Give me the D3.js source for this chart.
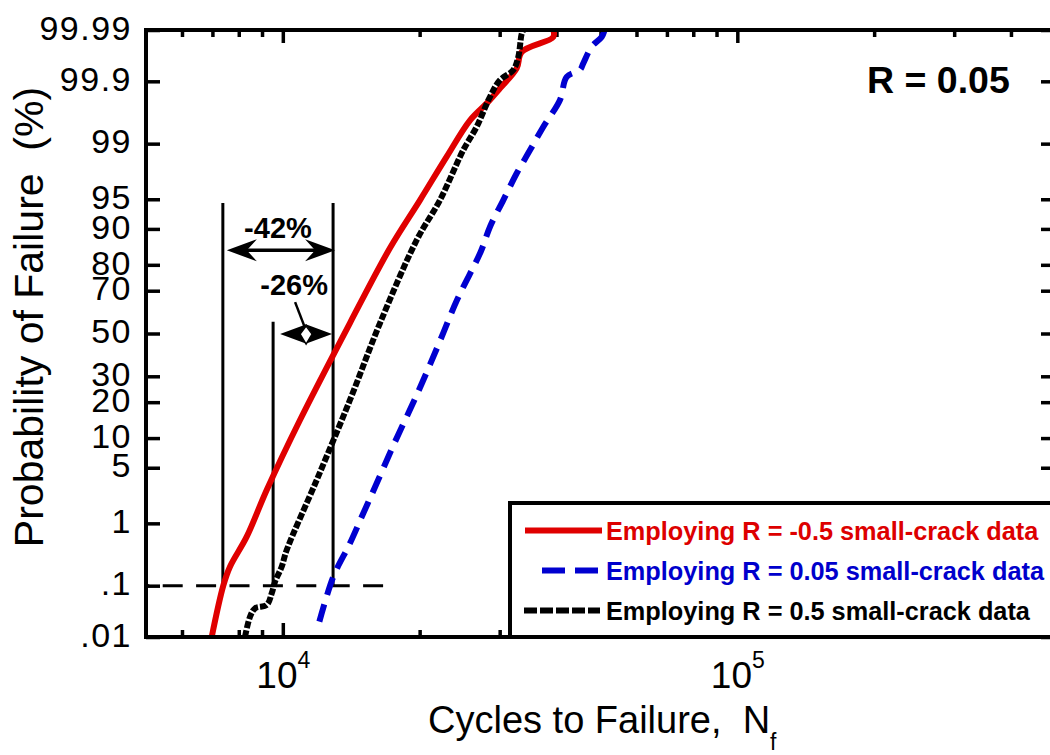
<!DOCTYPE html>
<html>
<head>
<meta charset="utf-8">
<script src="https://cdn.jsdelivr.net/npm/d3@7"></script>
<style>
  body { margin: 0; background: #fff; }
  svg { display: block; font-family: Arial, "Liberation Sans", Helvetica, sans-serif; }
</style>
</head>
<body>
<svg id="chart" width="1050" height="755"></svg>
<script>
// axis ticks
const probTicks = [0.01, 0.1, 1, 5, 10, 20, 30, 50, 70, 80, 90, 95, 99, 99.9, 99.99];
const probLabels = ['.01', '.1', '1', '5', '10', '20', '30', '50', '70', '80', '90', '95', '99', '99.9', '99.99'];
const cycleDomain = [5000, 500000];
const cycleMajor = [1e4, 1e5];
const cycleMinor = [6e3, 7e3, 8e3, 9e3, 2e4, 3e4, 4e4, 5e4, 6e4, 7e4, 8e4, 9e4, 2e5, 3e5, 4e5];

// R = -0.5 small-crack data (red)
const redCycles = [6975, 7396, 7651, 8329, 9217, 10910, 14050, 17210, 20040, 22940, 25810, 28090, 30050, 32700, 33540, 39370, 39370];
const redProb = [0.01, 0.1, 0.2135, 0.639, 2.76, 14.46, 55.1, 85.26, 94.9, 98.49, 99.55, 99.76, 99.867, 99.942, 99.972, 99.986, 99.99];

// R = 0.05 small-crack data (blue)
const blueCycles = [12033, 12915, 14052, 15034, 16090, 17594, 19707, 21874, 24210, 27255, 28570, 30560, 32706, 34990, 37430, 40720, 42130, 45060, 45820, 47810, 50300, 51070];
const blueProb = [0.0207, 0.144, 0.507, 1.379, 3.32, 8.93, 22.55, 43.29, 66.24, 84.19, 90.47, 94.9, 97.52, 98.77, 99.436, 99.789, 99.917, 99.938, 99.9535, 99.978, 99.986, 99.99];

// R = 0.5 small-crack data (black)
const blackCycles = [8256, 8471, 8688, 9217, 9454, 9613, 9943, 10199, 11874, 14052, 16364, 19707, 22171, 24948, 26703, 28565, 30050, 32144, 32968, 33541, 33830];
const blackProb = [0.01, 0.026, 0.038, 0.044, 0.0727, 0.118, 0.2135, 0.399, 3.63, 20.76, 55.1, 87.4, 94.9, 98.77, 99.436, 99.814, 99.905, 99.938, 99.965, 99.988, 99.99];

const legendLabels = ['Employing R = -0.5 small-crack data', 'Employing R = 0.05 small-crack data', 'Employing R = 0.5 small-crack data'];

// lives at 0.1 % failure used for the -42% / -26% comparison
const markProb = 0.1;
const markCycles = [7380, 9520, 12900];
const markTops = [94.5, 55.7, 94.5];
const markLineEnd = 16630;

// inverse of the standard normal cdf (Acklam)
function probit(p) {
	const a = [-3.969683028665376e+01, 2.209460984245205e+02, -2.759285104469687e+02, 1.383577518672690e+02, -3.066479806614716e+01, 2.506628277459239e+00];
	const b = [-5.447609879822406e+01, 1.615858368580409e+02, -1.556989798598866e+02, 6.680131188771972e+01, -1.328068155288572e+01];
	const c = [-7.784894002430293e-03, -3.223964580411365e-01, -2.400758277161838e+00, -2.549732539343734e+00, 4.374664141464968e+00, 2.938163982698783e+00];
	const d = [7.784695709041462e-03, 3.224671290700398e-01, 2.445134137142996e+00, 3.754408661907416e+00];
	const pl = 0.02425;
	if (p < pl) {
		const q = Math.sqrt(-2 * Math.log(p));
		return (((((c[0] * q + c[1]) * q + c[2]) * q + c[3]) * q + c[4]) * q + c[5]) / ((((d[0] * q + d[1]) * q + d[2]) * q + d[3]) * q + 1);
	}
	if (p > 1 - pl) {
		const q = Math.sqrt(-2 * Math.log(1 - p));
		return -(((((c[0] * q + c[1]) * q + c[2]) * q + c[3]) * q + c[4]) * q + c[5]) / ((((d[0] * q + d[1]) * q + d[2]) * q + d[3]) * q + 1);
	}
	const q = p - 0.5, r = q * q;
	return (((((a[0] * r + a[1]) * r + a[2]) * r + a[3]) * r + a[4]) * r + a[5]) * q / (((((b[0] * r + b[1]) * r + b[2]) * r + b[3]) * r + b[4]) * r + 1);
}

const plotLeft = 146, plotRight = 1055, plotTop = 30, plotBottom = 637;

const x = d3.scaleLog().domain(cycleDomain).range([plotLeft, plotRight]);
const zScale = d3.scaleLinear().domain([probit(0.0001), probit(0.9999)]).range([plotBottom, plotTop]);
const y = p => zScale(probit(p / 100));

const svg = d3.select('#chart');

// axes
function styleAxis(g) {
	g.select('.domain').remove();
	g.selectAll('.tick line').attr('stroke', '#000').attr('stroke-width', 3.5);
}

const zTicks = probTicks.map(p => probit(p / 100));

svg.append('g')
	.attr('transform', `translate(${plotLeft},0)`)
	.call(d3.axisLeft(zScale).tickValues(zTicks).tickSize(-14).tickPadding(14)
		.tickFormat((d, i) => probLabels[i]))
	.call(styleAxis)
	.call(g => g.selectAll('.tick text')
		.attr('font-size', 34).attr('dy', '0.27em').attr('fill', '#000')
		.style('letter-spacing', '1.5px'));

svg.append('g')
	.attr('transform', `translate(${plotRight},0)`)
	.call(d3.axisRight(zScale).tickValues(zTicks).tickSize(-14).tickFormat(''))
	.call(styleAxis);

svg.append('g')
	.attr('transform', `translate(0,${plotBottom})`)
	.call(d3.axisBottom(x).tickValues(cycleMinor).tickSize(-7).tickFormat(''))
	.call(styleAxis);

svg.append('g')
	.attr('transform', `translate(0,${plotTop})`)
	.call(d3.axisTop(x).tickValues(cycleMinor).tickSize(-7).tickFormat(''))
	.call(styleAxis);

svg.append('g')
	.attr('transform', `translate(0,${plotTop})`)
	.call(d3.axisTop(x).tickValues(cycleMajor).tickSize(-13).tickFormat(''))
	.call(styleAxis);

const xMajor = svg.append('g')
	.attr('transform', `translate(0,${plotBottom})`)
	.call(d3.axisBottom(x).tickValues(cycleMajor).tickSize(-14).tickPadding(25).tickFormat(''))
	.call(styleAxis);

xMajor.selectAll('.tick text')
	.attr('font-size', 37).attr('fill', '#000')
	.each(function(d) {
		const t = d3.select(this);
		t.append('tspan').text('10');
		t.append('tspan').attr('dy', -20).attr('font-size', 23).text(Math.round(Math.log10(d)));
	});

// strip d3's default axis font so the svg font applies
svg.selectAll('g').attr('font-family', null);

// annotations
const ann = svg.append('g');

ann.append('line')
	.attr('x1', plotLeft).attr('x2', x(markLineEnd))
	.attr('y1', y(markProb)).attr('y2', y(markProb))
	.attr('stroke', '#000').attr('stroke-width', 3)
	.attr('stroke-dasharray', '20,13.4').attr('stroke-dashoffset', 16.7);

markCycles.forEach((n, i) => {
	ann.append('line')
		.attr('x1', x(n)).attr('x2', x(n))
		.attr('y1', y(markTops[i])).attr('y2', y(markProb))
		.attr('stroke', '#000').attr('stroke-width', 3);
});

function arrowHead(tx, ty, dir, len, half, notch) {
	return `M${tx},${ty} L${tx + dir * len},${ty - half} L${tx + dir * notch},${ty} L${tx + dir * len},${ty + half} Z`;
}

// -42%
const a1y = y(84.6);
const a1l = x(markCycles[0]) + 4, a1r = x(markCycles[2]) + 2;
ann.append('line').attr('x1', a1l + 10).attr('x2', a1r - 10).attr('y1', a1y).attr('y2', a1y)
	.attr('stroke', '#000').attr('stroke-width', 3.5);
ann.append('path').attr('d', arrowHead(a1l, a1y, 1, 30, 11, 20));
ann.append('path').attr('d', arrowHead(a1r, a1y, -1, 30, 11, 20));
ann.append('text')
	.attr('x', (x(markCycles[0]) + x(markCycles[2])) / 2).attr('y', a1y - 12)
	.attr('text-anchor', 'middle').attr('font-size', 29).attr('font-weight', 'bold')
	.text('-42%');

// -26%
const a2y = y(49.7);
const a2l = x(markCycles[1]) + 7, a2r = x(markCycles[2]) - 1;
ann.append('path').attr('d', arrowHead(a2l, a2y, 1, 27, 10, 20));
ann.append('path').attr('d', arrowHead(a2r, a2y, -1, 27, 10, 20));
const a2m = (a2l + a2r) / 2;
ann.append('line').attr('x1', a2m - 11).attr('y1', a2y - 32).attr('x2', a2m - 1).attr('y2', a2y - 6)
	.attr('stroke', '#000').attr('stroke-width', 2.5);
ann.append('path')
	.attr('d', `M${a2m},${a2y - 8} L${a2m + 6},${a2y} L${a2m},${a2y + 10} L${a2m - 6},${a2y} Z`)
	.attr('fill', '#fff').attr('stroke', '#000').attr('stroke-width', 1.5);
ann.append('text')
	.attr('x', a2m - 12).attr('y', a2y - 39)
	.attr('text-anchor', 'middle').attr('font-size', 29).attr('font-weight', 'bold')
	.text('-26%');

// curves
const line = d3.line()
	.x(d => x(d[0]))
	.y(d => y(d[1]))
	.curve(d3.curveCatmullRom.alpha(0.5));

const series = [
	{ n: blueCycles, p: blueProb, color: '#0000d0', width: 6, dash: '18,10' },
	{ n: redCycles, p: redProb, color: '#e00000', width: 6, dash: null },
	{ n: blackCycles, p: blackProb, color: '#000', width: 6, dash: '7,2' }
];

series.forEach(s => {
	svg.append('path')
		.datum(d3.zip(s.n, s.p))
		.attr('d', line)
		.attr('fill', 'none')
		.attr('stroke', s.color)
		.attr('stroke-width', s.width)
		.attr('stroke-dasharray', s.dash)
		.attr('stroke-linejoin', 'round');
});

// frame
svg.append('rect')
	.attr('x', plotLeft).attr('y', plotTop)
	.attr('width', plotRight - plotLeft).attr('height', plotBottom - plotTop)
	.attr('fill', 'none').attr('stroke', '#000').attr('stroke-width', 4);

// legend
const leg = svg.append('g');
leg.append('rect')
	.attr('x', 510).attr('y', 503).attr('width', 560).attr('height', plotBottom - 503)
	.attr('fill', '#fff').attr('stroke', '#000').attr('stroke-width', 4);

const legColors = ['#dd0000', '#0000cc', '#000'];
const legSample = [
	{ x1: 525, x2: 602, dash: null, w: 6, c: '#e00000' },
	{ x1: 542, x2: 598, dash: '23,10', w: 6, c: '#0000d0' },
	{ x1: 524, x2: 600, dash: '13,3', w: 6, c: '#000' }
];
legendLabels.forEach((label, i) => {
	const by = 540 + i * 40;
	leg.append('line')
		.attr('x1', legSample[i].x1).attr('x2', legSample[i].x2)
		.attr('y1', by - 9.5).attr('y2', by - 9.5)
		.attr('stroke', legSample[i].c).attr('stroke-width', legSample[i].w)
		.attr('stroke-dasharray', legSample[i].dash);
	leg.append('text')
		.attr('x', 606).attr('y', by)
		.attr('font-size', 25.3).attr('font-weight', 'bold')
		.attr('fill', legColors[i])
		.text(label);
});

// labels
svg.append('text')
	.attr('x', 867).attr('y', 93)
	.attr('font-size', 37.5).attr('font-weight', 'bold')
	.text('R = 0.05');

const xt = svg.append('text')
	.attr('x', 428).attr('y', 733)
	.attr('font-size', 38)
	.style('white-space', 'pre');
xt.append('tspan').text('Cycles to Failure,  N');
xt.append('tspan').attr('dy', 17).attr('font-size', 23).text('f');

svg.append('text')
	.attr('transform', 'translate(43,317) rotate(-90)')
	.attr('text-anchor', 'middle')
	.attr('font-size', 41)
	.style('white-space', 'pre')
	.text('Probability of Failure  (%)');
</script>
</body>
</html>
